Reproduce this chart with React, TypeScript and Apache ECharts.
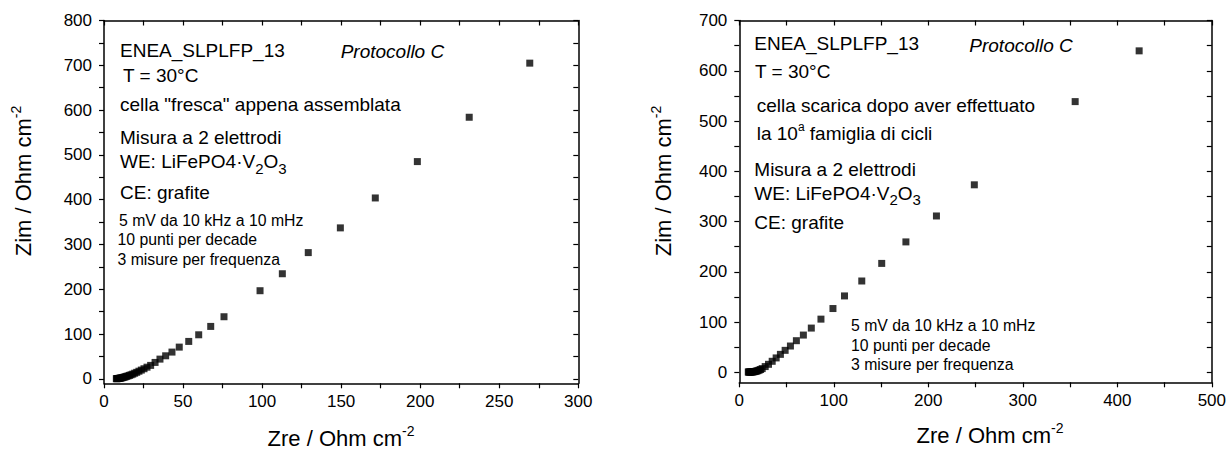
import React, { useEffect, useRef } from "react";
import * as echarts from "echarts";

// ---- Data ----
const leftZre = [
  269.3, 231.0, 198.2, 171.6, 149.5, 129.2, 112.8, 98.7, 75.9, 67.5, 59.9, 53.6,
  47.6, 43.0, 39.0, 35.4, 32.3, 29.5, 27.2, 25.3, 23.6, 22.1, 20.7, 19.4, 18.2,
  17.1, 16.1, 15.2, 14.3, 13.5, 12.8, 12.1, 11.5, 10.9, 10.4, 9.9, 9.5, 9.1, 8.7,
  8.4, 8.1, 7.8,
];
const leftZim = [
  704.8, 584.0, 485.0, 403.8, 337.0, 281.8, 234.6, 196.7, 138.6, 117.0, 98.3, 83.5,
  70.8, 59.7, 51.4, 44.0, 36.6, 30.0, 26.0, 22.5, 19.5, 17.0, 14.5, 12.5, 10.5,
  9.0, 7.7, 6.5, 5.5, 4.6, 3.8, 3.1, 2.5, 2.0, 1.6, 1.3, 1.0, 0.8, 0.6, 0.5, 0.4, 0.3,
];

const rightZre = [
  423.1, 355.4, 248.7, 208.6, 176.3, 150.7, 129.6, 111.3, 99.1, 86.4, 76.2, 67.8,
  60.4, 54.1, 48.5, 43.5, 39.0, 34.8, 30.9, 27.4, 24.2, 22.5, 21.1, 19.8, 18.6,
  17.6, 16.6, 15.7, 14.8, 14.0, 13.2, 12.5, 11.8, 11.1, 10.5, 10.0, 9.5,
];
const rightZim = [
  639.6, 538.6, 373.0, 311.0, 259.4, 216.6, 181.6, 151.9, 126.8, 105.7, 87.9, 74.0,
  62.8, 52.2, 43.6, 35.6, 28.5, 21.8, 15.8, 11.3, 7.3, 5.5, 4.4, 3.3, 2.6,
  2.0, 1.5, 1.2, 0.9, 0.8, 0.6, 0.5, 0.4, 0.4, 0.4, 0.4, 0.5,
];

// ---- Tick values / labels ----
const leftXLabels = [0, 50, 100, 150, 200, 250, 300];
const leftXTicks = [0, 25, 50, 75, 100, 125, 150, 175, 200, 225, 250, 275, 300];
const leftYLabels = [0, 100, 200, 300, 400, 500, 600, 700, 800];
const leftYTicks = [0, 50, 100, 150, 200, 250, 300, 350, 400, 450, 500, 550, 600, 650, 700, 750, 800];
const rightXLabels = [0, 100, 200, 300, 400, 500];
const rightXTicks = [0, 50, 100, 150, 200, 250, 300, 350, 400, 450, 500];
const rightYLabels = [0, 100, 200, 300, 400, 500, 600, 700];
const rightYTicks = [0, 50, 100, 150, 200, 250, 300, 350, 400, 450, 500, 550, 600, 650, 700];

const FONT = "'Liberation Sans', Arial, Helvetica, sans-serif";
const SMALL = 15.8;

function axis(
  kind: "x" | "y",
  gridIndex: number,
  position: string,
  min: number,
  max: number,
  ticks: number[],
  labels: number[],
  main: boolean
) {
  return {
    type: "value",
    gridIndex,
    position,
    min,
    max,
    splitLine: { show: false },
    axisLine: { show: true, onZero: false, lineStyle: { color: "#000", width: 1.5 } },
    axisTick: {
      show: true,
      inside: !main,
      length: 5,
      customValues: ticks,
      lineStyle: { color: "#000", width: 1.2 },
    },
    minorTick: { show: false },
    axisLabel: {
      show: main,
      customValues: labels,
      fontSize: 17,
      fontFamily: FONT,
      color: "#000",
      margin: kind === "x" ? 10 : 12,
    },
  };
}

function txt(x: number, y: number, text: string, fontSize = 19, extra: any = {}) {
  return {
    type: "text",
    x,
    y,
    silent: true,
    style: {
      text,
      fontSize,
      fontFamily: FONT,
      fill: "#000",
      align: "left",
      verticalAlign: "middle",
      ...extra,
    },
  };
}

const subRich = {
  n: { fontSize: 19, fontFamily: FONT, fill: "#000" },
  s: { fontSize: 15, fontFamily: FONT, fill: "#000", padding: [13, 0, 0, 0] },
};
const supRich = {
  n: { fontSize: 19, fontFamily: FONT, fill: "#000" },
  p: { fontSize: 12, fontFamily: FONT, fill: "#000", padding: [0, 0, 12, 0] },
};
const titleRich = {
  n: { fontSize: 22, fontFamily: FONT, fill: "#000" },
  p: { fontSize: 14, fontFamily: FONT, fill: "#000", padding: [0, 0, 15, 0] },
};

const TITLE_X = "{n|Zre / Ohm cm}{p|-2}";
const TITLE_Y = "{n|Zim / Ohm cm}{p|-2}";
const WE = "{n|WE: LiFePO4·V}{s|2}{n|O}{s|3}";

export default function App() {
  const ref = useRef<HTMLDivElement>(null);

  useEffect(() => {
    if (!ref.current) return;
    const chart = echarts.init(ref.current, null, { renderer: "svg" });
    const option: any = {
      animation: false,
      backgroundColor: "#fff",
      grid: [
        { left: 104, top: 20.5, width: 474.3, height: 362.8 },
        { left: 739.3, top: 20.5, width: 475, height: 361.8 },
      ],
      xAxis: [
        axis("x", 0, "bottom", 0, 300, leftXTicks, leftXLabels, true),
        axis("x", 0, "top", 0, 300, leftXTicks, leftXLabels, false),
        axis("x", 1, "bottom", 0, 500, rightXTicks, rightXLabels, true),
        axis("x", 1, "top", 0, 500, rightXTicks, rightXLabels, false),
      ],
      yAxis: [
        axis("y", 0, "left", -10, 800, leftYTicks, leftYLabels, true),
        axis("y", 0, "right", -10, 800, leftYTicks, leftYLabels, false),
        axis("y", 1, "left", -20, 700, rightYTicks, rightYLabels, true),
        axis("y", 1, "right", -20, 700, rightYTicks, rightYLabels, false),
      ],
      series: [
        {
          type: "scatter",
          xAxisIndex: 0,
          yAxisIndex: 0,
          symbol: "rect",
          symbolSize: 7,
          itemStyle: { color: "#000" },
          data: leftZre.map((v, i) => [v, leftZim[i]]),
        },
        {
          type: "scatter",
          xAxisIndex: 2,
          yAxisIndex: 2,
          symbol: "rect",
          symbolSize: 7,
          itemStyle: { color: "#000" },
          data: rightZre.map((v, i) => [v, rightZim[i]]),
        },
      ],
      graphic: [
        // axis titles
        txt(341, 438, TITLE_X, 22, { align: "center", rich: titleRich }),
        txt(990, 435, TITLE_X, 22, { align: "center", rich: titleRich }),
        { ...txt(23.5, 181, TITLE_Y, 22, { align: "center", rich: titleRich }), rotation: Math.PI / 2 },
        { ...txt(663.5, 181, TITLE_Y, 22, { align: "center", rich: titleRich }), rotation: Math.PI / 2 },

        // left annotations
        txt(120, 50, "ENEA_SLPLFP_13"),
        txt(123, 75, "T = 30°C"),
        txt(120, 104.5, 'cella "fresca" appena assemblata'),
        txt(120, 137.5, "Misura a 2 elettrodi"),
        txt(120, 161.5, WE, 19, { rich: subRich }),
        txt(120, 192, "CE: grafite"),
        txt(119, 220, "5 mV da 10 kHz a 10 mHz", SMALL),
        txt(117.5, 239, "10 punti per decade", SMALL),
        txt(117.5, 259, "3 misure per frequenza", SMALL),
        txt(340.7, 51.5, "Protocollo C", 19, { fontStyle: "italic" }),

        // right annotations
        txt(754.3, 43, "ENEA_SLPLFP_13"),
        txt(755, 71, "T = 30°C"),
        txt(756.7, 105, "cella scarica dopo aver effettuato"),
        txt(756.7, 133, "{n|la 10}{p|a}{n| famiglia di cicli}", 19, { rich: supRich }),
        txt(754.3, 169, "Misura a 2 elettrodi"),
        txt(754.3, 193, WE, 19, { rich: subRich }),
        txt(754.3, 222, "CE: grafite"),
        txt(851, 325.7, "5 mV da 10 kHz a 10 mHz", SMALL),
        txt(851, 345, "10 punti per decade", SMALL),
        txt(851, 364, "3 misure per frequenza", SMALL),
        txt(969.3, 45, "Protocollo C", 19, { fontStyle: "italic" }),
      ],
    };
    chart.setOption(option);
    return () => chart.dispose();
  }, []);

  return (
    <div
      ref={ref}
      style={{ position: "absolute", left: 0, top: 0, width: 1229, height: 450, background: "#fff" }}
    />
  );
}
